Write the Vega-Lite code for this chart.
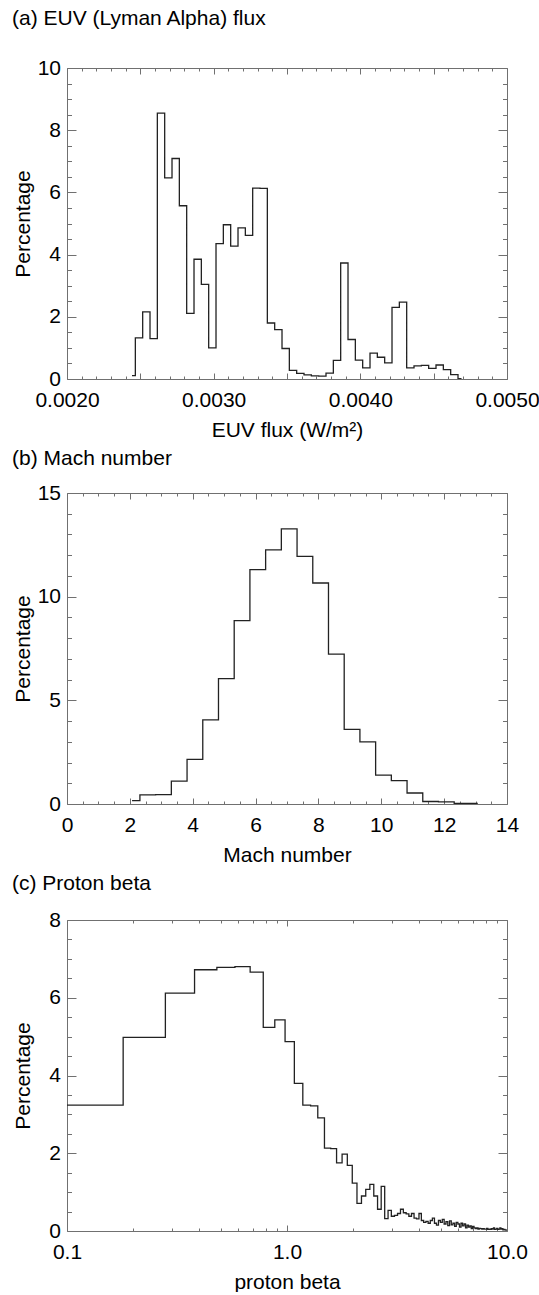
{
  "$schema": "https://vega.github.io/schema/vega-lite/v6.json",
  "padding": {"left": 12, "top": 8, "right": 0, "bottom": 0},
  "spacing": 8,
  "config": {
    "font": "Liberation Sans",
    "view": {"stroke": null},
    "axis": {"labelFont": "Liberation Sans", "labelFontSize": 21, "labelColor": "#000", "titleFont": "Liberation Sans", "titleFontSize": 21, "titleFontWeight": "normal", "titleColor": "#000", "domainColor": "#707070", "tickColor": "#707070", "grid": false, "labelFlush": false, "labelOverlap": false, "labelBound": false, "domainWidth": 1, "tickWidth": 1},
    "title": {"font": "Liberation Sans", "fontSize": 21, "fontWeight": "normal", "color": "#000", "anchor": "start", "frame": "bounds"}
  },
  "datasets": {
    "euv": [
      {"x": 0.002443, "y": 0.11}, {"x": 0.002466, "y": 1.32}, {"x": 0.002516, "y": 2.16}, {"x": 0.002566, "y": 1.30},
      {"x": 0.002616, "y": 8.55}, {"x": 0.002666, "y": 6.47}, {"x": 0.002716, "y": 7.09}, {"x": 0.002766, "y": 5.57},
      {"x": 0.002816, "y": 2.11}, {"x": 0.002866, "y": 3.85}, {"x": 0.002916, "y": 3.04}, {"x": 0.002966, "y": 1.00},
      {"x": 0.003016, "y": 4.35}, {"x": 0.003066, "y": 4.96}, {"x": 0.003116, "y": 4.27}, {"x": 0.003166, "y": 4.86},
      {"x": 0.003216, "y": 4.62}, {"x": 0.003266, "y": 6.14}, {"x": 0.003316, "y": 6.13}, {"x": 0.003366, "y": 1.80},
      {"x": 0.003416, "y": 1.59}, {"x": 0.003466, "y": 0.98}, {"x": 0.003516, "y": 0.28}, {"x": 0.003566, "y": 0.18},
      {"x": 0.003616, "y": 0.13}, {"x": 0.003666, "y": 0.10}, {"x": 0.003716, "y": 0.09}, {"x": 0.003766, "y": 0.19},
      {"x": 0.003816, "y": 0.60}, {"x": 0.003866, "y": 3.73}, {"x": 0.003916, "y": 1.27}, {"x": 0.003966, "y": 0.61},
      {"x": 0.004016, "y": 0.36}, {"x": 0.004066, "y": 0.83}, {"x": 0.004116, "y": 0.70}, {"x": 0.004166, "y": 0.52},
      {"x": 0.004216, "y": 2.30}, {"x": 0.004266, "y": 2.47}, {"x": 0.004316, "y": 0.36}, {"x": 0.004366, "y": 0.42},
      {"x": 0.004416, "y": 0.44}, {"x": 0.004466, "y": 0.34}, {"x": 0.004516, "y": 0.45}, {"x": 0.004566, "y": 0.30},
      {"x": 0.004616, "y": 0.14}, {"x": 0.004666, "y": 0.01}, {"x": 0.00469, "y": 0.01}
    ],
    "mach": [
      {"x": 2.07, "y": 0.16}, {"x": 2.32, "y": 0.44}, {"x": 2.82, "y": 0.45}, {"x": 3.32, "y": 1.10},
      {"x": 3.82, "y": 2.15}, {"x": 4.32, "y": 4.06}, {"x": 4.82, "y": 6.05}, {"x": 5.32, "y": 8.84},
      {"x": 5.82, "y": 11.3}, {"x": 6.32, "y": 12.26}, {"x": 6.82, "y": 13.27}, {"x": 7.32, "y": 11.94},
      {"x": 7.82, "y": 10.66}, {"x": 8.32, "y": 7.23}, {"x": 8.82, "y": 3.6}, {"x": 9.32, "y": 3.0},
      {"x": 9.82, "y": 1.39}, {"x": 10.32, "y": 1.13}, {"x": 10.82, "y": 0.53}, {"x": 11.32, "y": 0.12},
      {"x": 11.82, "y": 0.10}, {"x": 12.32, "y": 0.03}, {"x": 12.82, "y": 0.03}, {"x": 13.07, "y": 0.03}
    ],
    "beta": [
      {"x": 0.1, "y": 3.24}, {"x": 0.18, "y": 4.98}, {"x": 0.28, "y": 6.12}, {"x": 0.38, "y": 6.72},
      {"x": 0.48, "y": 6.78}, {"x": 0.58, "y": 6.80}, {"x": 0.68, "y": 6.66}, {"x": 0.78, "y": 5.24},
      {"x": 0.88, "y": 5.43}, {"x": 0.98, "y": 4.87}, {"x": 1.08, "y": 3.80}, {"x": 1.18, "y": 3.24},
      {"x": 1.28, "y": 3.22}, {"x": 1.38, "y": 2.91}, {"x": 1.48, "y": 2.13}, {"x": 1.58, "y": 2.12},
      {"x": 1.68, "y": 1.75}, {"x": 1.78, "y": 1.98}, {"x": 1.88, "y": 1.69}, {"x": 1.98, "y": 1.23},
      {"x": 2.08, "y": 0.71}, {"x": 2.18, "y": 0.90}, {"x": 2.28, "y": 1.07}, {"x": 2.38, "y": 1.20},
      {"x": 2.48, "y": 0.90}, {"x": 2.58, "y": 0.56}, {"x": 2.68, "y": 1.15}, {"x": 2.78, "y": 0.32},
      {"x": 2.88, "y": 0.53}, {"x": 2.98, "y": 0.38}, {"x": 3.08, "y": 0.40}, {"x": 3.18, "y": 0.45},
      {"x": 3.28, "y": 0.56}, {"x": 3.38, "y": 0.47}, {"x": 3.48, "y": 0.44}, {"x": 3.58, "y": 0.38},
      {"x": 3.68, "y": 0.45}, {"x": 3.78, "y": 0.33}, {"x": 3.88, "y": 0.31}, {"x": 3.98, "y": 0.45},
      {"x": 4.08, "y": 0.27}, {"x": 4.18, "y": 0.22}, {"x": 4.28, "y": 0.25}, {"x": 4.38, "y": 0.20},
      {"x": 4.48, "y": 0.27}, {"x": 4.58, "y": 0.33}, {"x": 4.68, "y": 0.20}, {"x": 4.78, "y": 0.15},
      {"x": 4.88, "y": 0.27}, {"x": 4.98, "y": 0.22}, {"x": 5.08, "y": 0.30}, {"x": 5.18, "y": 0.18},
      {"x": 5.28, "y": 0.24}, {"x": 5.38, "y": 0.14}, {"x": 5.48, "y": 0.26}, {"x": 5.58, "y": 0.16},
      {"x": 5.68, "y": 0.20}, {"x": 5.78, "y": 0.12}, {"x": 5.88, "y": 0.22}, {"x": 5.98, "y": 0.18},
      {"x": 6.08, "y": 0.10}, {"x": 6.18, "y": 0.20}, {"x": 6.28, "y": 0.13}, {"x": 6.38, "y": 0.18},
      {"x": 6.48, "y": 0.08}, {"x": 6.58, "y": 0.15}, {"x": 6.68, "y": 0.10}, {"x": 6.78, "y": 0.13},
      {"x": 6.88, "y": 0.06}, {"x": 6.98, "y": 0.12}, {"x": 7.08, "y": 0.08}, {"x": 7.18, "y": 0.06},
      {"x": 7.28, "y": 0.08}, {"x": 7.38, "y": 0.05}, {"x": 7.48, "y": 0.07}, {"x": 7.58, "y": 0.06},
      {"x": 7.68, "y": 0.05}, {"x": 7.78, "y": 0.06}, {"x": 7.88, "y": 0.05}, {"x": 7.98, "y": 0.05},
      {"x": 8.08, "y": 0.07}, {"x": 8.18, "y": 0.04}, {"x": 8.28, "y": 0.05}, {"x": 8.38, "y": 0.04},
      {"x": 8.48, "y": 0.06}, {"x": 8.58, "y": 0.05}, {"x": 8.68, "y": 0.08}, {"x": 8.78, "y": 0.04},
      {"x": 8.88, "y": 0.05}, {"x": 8.98, "y": 0.07}, {"x": 9.08, "y": 0.04}, {"x": 9.18, "y": 0.05},
      {"x": 9.28, "y": 0.08}, {"x": 9.38, "y": 0.05}, {"x": 9.48, "y": 0.06}, {"x": 9.58, "y": 0.03},
      {"x": 9.68, "y": 0.04}, {"x": 9.78, "y": 0.03}, {"x": 9.88, "y": 0.02}, {"x": 9.98, "y": 0.02},
      {"x": 10.0, "y": 0.02}
    ]
  },
  "vconcat": [
    {
      "title": {"text": "(a) EUV (Lyman Alpha) flux", "offset": 28},
      "width": 440, "height": 311,
      "data": {"name": "euv"},
      "resolve": {"axis": {"x": "independent", "y": "independent"}},
      "layer": [
        {
          "mark": {"type": "line", "interpolate": "step-after", "color": "#222", "strokeWidth": 1.3, "clip": true},
          "encoding": {
            "x": {"field": "x", "type": "quantitative", "scale": {"domain": [0.002, 0.005], "nice": false, "zero": false},
              "axis": {"orient": "bottom", "values": [0.002, 0.0025, 0.003, 0.0035, 0.004, 0.0045, 0.005], "labelExpr": "abs(datum.value * 1000 - round(datum.value * 1000)) < 0.000001 ? format(datum.value, '.4f') : ''", "tickSize": -6, "labelPadding": 16, "title": "EUV flux (W/m²)", "titlePadding": 9, "domain": true}},
            "y": {"field": "y", "type": "quantitative", "scale": {"domain": [0, 10], "nice": false},
              "axis": {"orient": "left", "values": [0, 2, 4, 6, 8, 10], "format": "d", "tickSize": -9, "labelPadding": 15.5, "title": "Percentage", "titleX": -44, "titleY": 155.5, "titleAngle": -90, "titleAlign": "center", "titleBaseline": "middle", "domain": true}}
          }
        },
        {
          "mark": {"type": "line", "interpolate": "step-after", "strokeOpacity": 0},
          "encoding": {
            "x": {"field": "x", "type": "quantitative", "scale": {"domain": [0.002, 0.005], "nice": false, "zero": false},
              "axis": {"orient": "bottom", "values": [0.0021, 0.0022, 0.0023, 0.0024, 0.0026, 0.0027, 0.0028, 0.0029, 0.0031, 0.0032, 0.0033, 0.0034, 0.0036, 0.0037, 0.0038, 0.0039, 0.0041, 0.0042, 0.0043, 0.0044, 0.0046, 0.0047, 0.0048, 0.0049], "tickSize": -3, "labels": false, "domain": false, "title": null}},
            "y": {"field": "y", "type": "quantitative", "scale": {"domain": [0, 10], "nice": false},
              "axis": {"orient": "left", "values": [0.5, 1, 1.5, 2.5, 3, 3.5, 4.5, 5, 5.5, 6.5, 7, 7.5, 8.5, 9, 9.5], "tickSize": -4.5, "labels": false, "domain": false, "title": null}}
          }
        },
        {
          "mark": {"type": "line", "interpolate": "step-after", "strokeOpacity": 0},
          "encoding": {
            "x": {"field": "x", "type": "quantitative", "scale": {"domain": [0.002, 0.005], "nice": false, "zero": false},
              "axis": {"orient": "top", "values": [0.002, 0.0025, 0.003, 0.0035, 0.004, 0.0045, 0.005], "tickSize": -6, "labels": false, "domain": true, "title": null}},
            "y": {"field": "y", "type": "quantitative", "scale": {"domain": [0, 10], "nice": false},
              "axis": {"orient": "right", "values": [0, 2, 4, 6, 8, 10], "tickSize": -9, "labels": false, "domain": true, "title": null}}
          }
        },
        {
          "mark": {"type": "line", "interpolate": "step-after", "strokeOpacity": 0},
          "encoding": {
            "x": {"field": "x", "type": "quantitative", "scale": {"domain": [0.002, 0.005], "nice": false, "zero": false},
              "axis": {"orient": "top", "values": [0.0021, 0.0022, 0.0023, 0.0024, 0.0026, 0.0027, 0.0028, 0.0029, 0.0031, 0.0032, 0.0033, 0.0034, 0.0036, 0.0037, 0.0038, 0.0039, 0.0041, 0.0042, 0.0043, 0.0044, 0.0046, 0.0047, 0.0048, 0.0049], "tickSize": -3, "labels": false, "domain": false, "title": null}},
            "y": {"field": "y", "type": "quantitative", "scale": {"domain": [0, 10], "nice": false},
              "axis": {"orient": "right", "values": [0.5, 1, 1.5, 2.5, 3, 3.5, 4.5, 5, 5.5, 6.5, 7, 7.5, 8.5, 9, 9.5], "tickSize": -4.5, "labels": false, "domain": false, "title": null}}
          }
        }
      ]
    },
    {
      "title": {"text": "(b) Mach number", "offset": 13},
      "width": 440, "height": 311,
      "data": {"name": "mach"},
      "resolve": {"axis": {"x": "independent", "y": "independent"}},
      "layer": [
        {
          "mark": {"type": "line", "interpolate": "step-after", "color": "#222", "strokeWidth": 1.3, "clip": true},
          "encoding": {
            "x": {"field": "x", "type": "quantitative", "scale": {"domain": [0, 14], "nice": false},
              "axis": {"orient": "bottom", "values": [0, 2, 4, 6, 8, 10, 12, 14], "format": "d", "tickSize": -6, "labelPadding": 16, "title": "Mach number", "titlePadding": 9, "domain": true}},
            "y": {"field": "y", "type": "quantitative", "scale": {"domain": [0, 15], "nice": false},
              "axis": {"orient": "left", "values": [0, 5, 10, 15], "format": "d", "tickSize": -9, "labelPadding": 15.5, "title": "Percentage", "titleX": -44, "titleY": 155.5, "titleAngle": -90, "titleAlign": "center", "titleBaseline": "middle", "domain": true}}
          }
        },
        {
          "mark": {"type": "line", "interpolate": "step-after", "strokeOpacity": 0},
          "encoding": {
            "x": {"field": "x", "type": "quantitative", "scale": {"domain": [0, 14], "nice": false},
              "axis": {"orient": "bottom", "values": [0.5, 1, 1.5, 2.5, 3, 3.5, 4.5, 5, 5.5, 6.5, 7, 7.5, 8.5, 9, 9.5, 10.5, 11, 11.5, 12.5, 13, 13.5], "tickSize": -3, "labels": false, "domain": false, "title": null}},
            "y": {"field": "y", "type": "quantitative", "scale": {"domain": [0, 15], "nice": false},
              "axis": {"orient": "left", "values": [1, 2, 3, 4, 6, 7, 8, 9, 11, 12, 13, 14], "tickSize": -4.5, "labels": false, "domain": false, "title": null}}
          }
        },
        {
          "mark": {"type": "line", "interpolate": "step-after", "strokeOpacity": 0},
          "encoding": {
            "x": {"field": "x", "type": "quantitative", "scale": {"domain": [0, 14], "nice": false},
              "axis": {"orient": "top", "values": [0, 2, 4, 6, 8, 10, 12, 14], "tickSize": -6, "labels": false, "domain": true, "title": null}},
            "y": {"field": "y", "type": "quantitative", "scale": {"domain": [0, 15], "nice": false},
              "axis": {"orient": "right", "values": [0, 5, 10, 15], "tickSize": -9, "labels": false, "domain": true, "title": null}}
          }
        },
        {
          "mark": {"type": "line", "interpolate": "step-after", "strokeOpacity": 0},
          "encoding": {
            "x": {"field": "x", "type": "quantitative", "scale": {"domain": [0, 14], "nice": false},
              "axis": {"orient": "top", "values": [0.5, 1, 1.5, 2.5, 3, 3.5, 4.5, 5, 5.5, 6.5, 7, 7.5, 8.5, 9, 9.5, 10.5, 11, 11.5, 12.5, 13, 13.5], "tickSize": -3, "labels": false, "domain": false, "title": null}},
            "y": {"field": "y", "type": "quantitative", "scale": {"domain": [0, 15], "nice": false},
              "axis": {"orient": "right", "values": [1, 2, 3, 4, 6, 7, 8, 9, 11, 12, 13, 14], "tickSize": -4.5, "labels": false, "domain": false, "title": null}}
          }
        }
      ]
    },
    {
      "title": {"text": "(c) Proton beta", "offset": 15},
      "width": 440, "height": 311,
      "data": {"name": "beta"},
      "resolve": {"axis": {"x": "independent", "y": "independent"}},
      "layer": [
        {
          "mark": {"type": "line", "interpolate": "step-after", "color": "#222", "strokeWidth": 1.3, "clip": true},
          "encoding": {
            "x": {"field": "x", "type": "quantitative", "scale": {"type": "log", "domain": [0.1, 10], "nice": false},
              "axis": {"orient": "bottom", "values": [0.1, 1, 10], "labelExpr": "format(datum.value, '.1f')", "tickSize": -6, "labelPadding": 16, "title": "proton beta", "titlePadding": 9, "domain": true}},
            "y": {"field": "y", "type": "quantitative", "scale": {"domain": [0, 8], "nice": false},
              "axis": {"orient": "left", "values": [0, 2, 4, 6, 8], "format": "d", "tickSize": -9, "labelPadding": 15.5, "title": "Percentage", "titleX": -44, "titleY": 155.5, "titleAngle": -90, "titleAlign": "center", "titleBaseline": "middle", "domain": true}}
          }
        },
        {
          "mark": {"type": "line", "interpolate": "step-after", "strokeOpacity": 0},
          "encoding": {
            "x": {"field": "x", "type": "quantitative", "scale": {"type": "log", "domain": [0.1, 10], "nice": false},
              "axis": {"orient": "bottom", "values": [0.2, 0.3, 0.4, 0.5, 0.6, 0.7, 0.8, 0.9, 2, 3, 4, 5, 6, 7, 8, 9], "tickSize": -3, "labels": false, "domain": false, "title": null}},
            "y": {"field": "y", "type": "quantitative", "scale": {"domain": [0, 8], "nice": false},
              "axis": {"orient": "left", "values": [0.5, 1, 1.5, 2.5, 3, 3.5, 4.5, 5, 5.5, 6.5, 7, 7.5], "tickSize": -4.5, "labels": false, "domain": false, "title": null}}
          }
        },
        {
          "mark": {"type": "line", "interpolate": "step-after", "strokeOpacity": 0},
          "encoding": {
            "x": {"field": "x", "type": "quantitative", "scale": {"type": "log", "domain": [0.1, 10], "nice": false},
              "axis": {"orient": "top", "values": [0.1, 1, 10], "tickSize": -6, "labels": false, "domain": true, "title": null}},
            "y": {"field": "y", "type": "quantitative", "scale": {"domain": [0, 8], "nice": false},
              "axis": {"orient": "right", "values": [0, 2, 4, 6, 8], "tickSize": -9, "labels": false, "domain": true, "title": null}}
          }
        },
        {
          "mark": {"type": "line", "interpolate": "step-after", "strokeOpacity": 0},
          "encoding": {
            "x": {"field": "x", "type": "quantitative", "scale": {"type": "log", "domain": [0.1, 10], "nice": false},
              "axis": {"orient": "top", "values": [0.2, 0.3, 0.4, 0.5, 0.6, 0.7, 0.8, 0.9, 2, 3, 4, 5, 6, 7, 8, 9], "tickSize": -3, "labels": false, "domain": false, "title": null}},
            "y": {"field": "y", "type": "quantitative", "scale": {"domain": [0, 8], "nice": false},
              "axis": {"orient": "right", "values": [0.5, 1, 1.5, 2.5, 3, 3.5, 4.5, 5, 5.5, 6.5, 7, 7.5], "tickSize": -4.5, "labels": false, "domain": false, "title": null}}
          }
        }
      ]
    }
  ]
}
